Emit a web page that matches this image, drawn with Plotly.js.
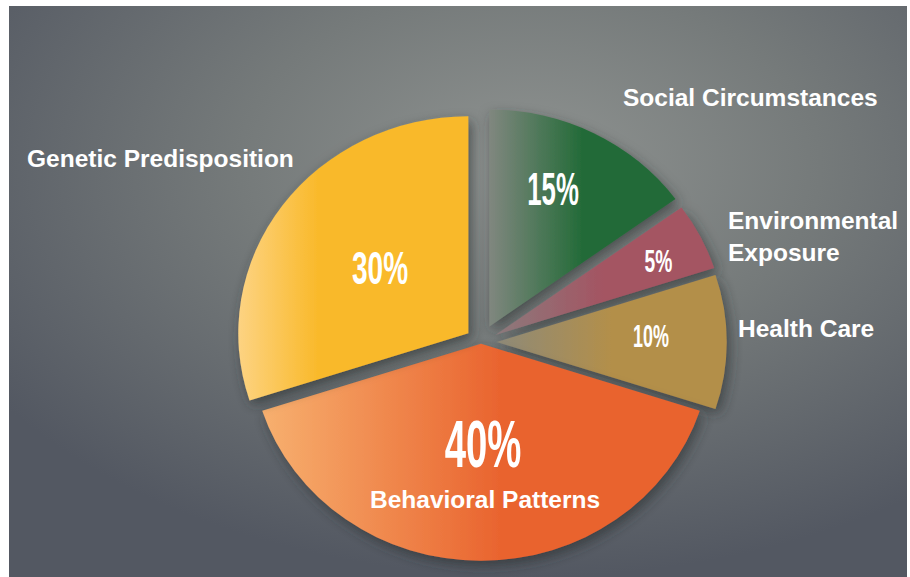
<!DOCTYPE html>
<html>
<head>
<meta charset="utf-8">
<script src="https://cdn.plot.ly/plotly-3.0.1.min.js"></script>
<style>
  html, body { margin: 0; padding: 0; background: #ffffff; overflow: hidden; }
  #chart { width: 910px; height: 577px; }
</style>
</head>
<body>
<div id="chart"></div>
<script>
// ---- data ----
const categories = ["Social Circumstances", "Environmental Exposure", "Health Care", "Behavioral Patterns", "Genetic Predisposition"];
const shares = [15, 5, 10, 40, 30];
const sliceColors = ["#236B38", "#A45462", "#B38F4A", "#E9632E", "#F9B92A"];
const sliceLightColors = ["#80877F", "#8C7A7C", "#8E8A78", "#F7B06F", "#FDD382"];
const pulls = [0.08, 0.07, 0.068, 0.008, 0.068];

// ---- background (radial grey gradient) ----
const bgSvg = '<svg xmlns="http://www.w3.org/2000/svg" width="898" height="571" viewBox="0 0 898 571" preserveAspectRatio="none">' +
  '<defs><radialGradient id="g" cx="0.58" cy="0.28" r="0.72">' +
  '<stop offset="0" stop-color="#8F9391"/><stop offset="0.45" stop-color="#757A7A"/><stop offset="1" stop-color="#535862"/>' +
  '</radialGradient></defs><rect width="898" height="571" fill="url(#g)"/></svg>';
const bgUri = 'data:image/svg+xml;charset=utf-8,' + encodeURIComponent(bgSvg);

const W = 910, H = 577;
const CX = 481, CY = 342, STRETCH_X = 1.06;
const px = x => x / W;
const py = y => 1 - y / H;

const trace = {
  type: 'pie',
  labels: categories,
  values: shares,
  sort: false,
  direction: 'clockwise',
  rotation: 0,
  pull: pulls,
  textinfo: 'none',
  hoverinfo: 'skip',
  marker: { colors: sliceColors, line: { width: 0 } },
  domain: { x: [246.6 / W, 715.4 / W], y: [0.001, 0.8135] },
  showlegend: false
};

// label annotations
const labelFont = { family: 'Liberation Sans, Arial, sans-serif', size: 24.5, color: '#ffffff', weight: 700 };
const labelPos = [
  { x: 621, y: 97, xanchor: 'left' },
  { x: 726, y: 236, xanchor: 'left', wrap: true },
  { x: 736, y: 328, xanchor: 'left' },
  { x: 485, y: 499, xanchor: 'center' },
  { x: 25, y: 158, xanchor: 'left' }
];
const pctPos = [
  { x: 553, y: 189, size: 46, sx: 0.56 },
  { x: 658, y: 262, size: 31, sx: 0.62 },
  { x: 651, y: 336, size: 32, sx: 0.56 },
  { x: 483, y: 444, size: 66, sx: 0.58 },
  { x: 380, y: 268, size: 46, sx: 0.61 }
];
const annotations = [];
categories.forEach((c, i) => {
  const p = labelPos[i];
  annotations.push({
    text: p.wrap ? c.replace(' ', '<br>') : c,
    x: px(p.x), y: py(p.y), xref: 'paper', yref: 'paper',
    xanchor: p.xanchor, yanchor: 'middle', align: 'left',
    showarrow: false, font: labelFont
  });
  const q = pctPos[i];
  annotations.push({
    text: shares[i] + '%',
    x: px(q.x), y: py(q.y), xref: 'paper', yref: 'paper',
    xanchor: 'center', yanchor: 'middle', showarrow: false,
    font: { family: 'Liberation Sans, Arial, sans-serif', size: q.size, color: '#ffffff', weight: 700 }
  });
});

const layout = {
  width: W, height: H,
  margin: { l: 0, r: 0, t: 0, b: 0, pad: 0 },
  paper_bgcolor: '#ffffff',
  plot_bgcolor: 'rgba(0,0,0,0)',
  showlegend: false,
  images: [{
    source: bgUri, xref: 'paper', yref: 'paper',
    x: 9 / W, y: 1 - 6 / H, sizex: 898 / W, sizey: 571 / H,
    xanchor: 'left', yanchor: 'top', sizing: 'stretch', layer: 'below'
  }],
  annotations: annotations
};

Plotly.newPlot('chart', [trace], layout, { displayModeBar: false, staticPlot: true }).then(gd => {
  const svg = gd.querySelector('svg.main-svg');
  const NS = 'http://www.w3.org/2000/svg';
  let defs = svg.querySelector('defs');
  if (!defs) { defs = document.createElementNS(NS, 'defs'); svg.insertBefore(defs, svg.firstChild); }
  const filt = document.createElementNS(NS, 'filter');
  filt.setAttribute('id', 'sliceShadow');
  filt.setAttribute('x', '-20%'); filt.setAttribute('y', '-20%');
  filt.setAttribute('width', '140%'); filt.setAttribute('height', '140%');
  filt.innerHTML = '<feDropShadow dx="3" dy="5" stdDeviation="6" flood-color="#2a2e33" flood-opacity="0.65"/>';
  defs.appendChild(filt);
  // horizontal light-to-colour gradients on the slices
  const paths = gd.querySelectorAll('g.slice path.surface');
  paths.forEach((p, i) => {
    const id = 'sliceGrad' + i;
    const lg = document.createElementNS(NS, 'linearGradient');
    lg.setAttribute('id', id);
    lg.setAttribute('x1', '0'); lg.setAttribute('y1', '0');
    lg.setAttribute('x2', '1'); lg.setAttribute('y2', '0');
    const mid = (i === 3) ? 0.55 : (i === 4 ? 0.35 : 0.5);
    lg.innerHTML = '<stop offset="0" stop-color="' + sliceLightColors[i] + '"/>' +
      '<stop offset="' + mid + '" stop-color="' + sliceColors[i] + '"/>' +
      '<stop offset="1" stop-color="' + sliceColors[i] + '"/>';
    defs.appendChild(lg);
    p.style.fill = 'url(#' + id + ')';
    p.setAttribute('filter', 'url(#sliceShadow)');
  });
  // the reference pie is slightly wider than tall
  const pl = gd.querySelector('g.pielayer');
  if (pl) pl.setAttribute('transform', 'translate(' + CX + ',' + CY + ') scale(' + STRETCH_X + ',1) translate(' + (-CX) + ',' + (-CY) + ')');
  // condensed look for the percentage figures
  const texts = gd.querySelectorAll('g.annotation text.annotation-text');
  texts.forEach((t, k) => {
    if (k % 2 !== 1) return;
    const q = pctPos[(k - 1) / 2];
    const bb = t.getBBox();
    const cx = bb.x + bb.width / 2;
    const prev = t.getAttribute('transform') || '';
    t.setAttribute('transform', 'translate(' + cx + ',0) scale(' + q.sx + ',1) translate(' + (-cx) + ',0) ' + prev);
  });
});
</script>
</body>
</html>
